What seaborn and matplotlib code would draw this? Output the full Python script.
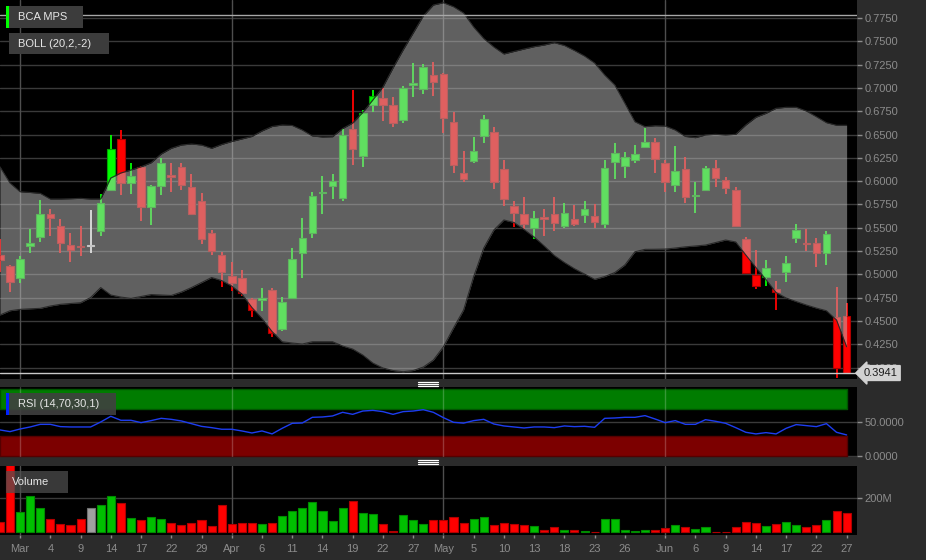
import numpy as np
import matplotlib
matplotlib.use("Agg")
import matplotlib.pyplot as plt
import matplotlib.transforms as mtransforms
import seaborn as sns
from matplotlib.patches import Rectangle
from matplotlib.lines import Line2D

# --- data (one entry per trading day) ---
opens = [0.521, 0.509, 0.496, 0.530, 0.540, 0.565, 0.552, 0.531, 0.530, 0.530,
         0.546, 0.590, 0.645, 0.598, 0.615, 0.5725, 0.595, 0.607, 0.615, 0.594,
         0.579, 0.5446, 0.521, 0.4985, 0.496, 0.474, 0.4724, 0.483, 0.441, 0.4742,
         0.5225, 0.5446, 0.5875, 0.5947, 0.582, 0.656, 0.627, 0.6817, 0.6888, 0.6817,
         0.6655, 0.7031, 0.6985, 0.7138, 0.715, 0.6634, 0.6083, 0.6216, 0.6484, 0.6527,
         0.6126, 0.5733, 0.5644, 0.550, 0.5615, 0.5644, 0.5518, 0.559, 0.5636, 0.5626,
         0.554, 0.6208, 0.6166, 0.6226, 0.6369, 0.6416, 0.619, 0.5958, 0.613, 0.5835,
         0.5905, 0.6144, 0.601, 0.5905, 0.538, 0.4997, 0.4974, 0.4846, 0.502, 0.5386,
         0.5325, 0.5336, 0.5232, 0.454, 0.4556]
highs = [0.5375, 0.510, 0.520, 0.549, 0.580, 0.570, 0.559, 0.544, 0.552, 0.569,
         0.586, 0.650, 0.655, 0.619, 0.616, 0.596, 0.6245, 0.619, 0.619, 0.608,
         0.587, 0.5475, 0.5243, 0.513, 0.5046, 0.4745, 0.4853, 0.4853, 0.476, 0.528,
         0.560, 0.5883, 0.605, 0.6076, 0.656, 0.6977, 0.6763, 0.6977, 0.6995, 0.690,
         0.7024, 0.727, 0.7256, 0.7275, 0.716, 0.674, 0.632, 0.6477, 0.671, 0.6577,
         0.6226, 0.5786, 0.5833, 0.568, 0.5701, 0.5833, 0.5762, 0.5744, 0.5786, 0.575,
         0.6226, 0.6412, 0.6316, 0.6387, 0.6567, 0.6466, 0.6226, 0.6377, 0.6255, 0.5987,
         0.6162, 0.6226, 0.6047, 0.5933, 0.5404, 0.526, 0.5153, 0.4928, 0.5196, 0.554,
         0.5486, 0.5386, 0.5465, 0.4867, 0.4695]
lows = [0.503, 0.481, 0.491, 0.523, 0.535, 0.541, 0.523, 0.513, 0.520, 0.523,
        0.541, 0.589, 0.585, 0.586, 0.5575, 0.553, 0.5855, 0.588, 0.5905, 0.564,
        0.532, 0.521, 0.486, 0.4825, 0.4767, 0.4546, 0.461, 0.4324, 0.4396, 0.474,
        0.4964, 0.5386, 0.5643, 0.5808, 0.579, 0.6173, 0.6155, 0.6745, 0.6648, 0.6584,
        0.6627, 0.690, 0.6931, 0.6916, 0.6513, 0.609, 0.5994, 0.619, 0.6412, 0.592,
        0.5733, 0.551, 0.549, 0.5375, 0.5414, 0.5465, 0.5493, 0.5518, 0.5547, 0.5493,
        0.5493, 0.602, 0.6037, 0.6198, 0.635, 0.609, 0.5886, 0.5886, 0.576, 0.5655,
        0.590, 0.594, 0.5858, 0.5504, 0.501, 0.484, 0.4878, 0.4617, 0.4921, 0.5333,
        0.525, 0.5075, 0.510, 0.389, 0.3941]
closes = [0.515, 0.492, 0.516, 0.534, 0.565, 0.560, 0.534, 0.526, 0.529, 0.530,
          0.576, 0.634, 0.598, 0.606, 0.5725, 0.595, 0.619, 0.604, 0.596, 0.565,
          0.538, 0.5246, 0.503, 0.4903, 0.480, 0.462, 0.4742, 0.4367, 0.470, 0.5164,
          0.5393, 0.584, 0.5885, 0.600, 0.6495, 0.6348, 0.6734, 0.6913, 0.6817, 0.662,
          0.6996, 0.7056, 0.7228, 0.7067, 0.6674, 0.6173, 0.602, 0.6326, 0.6666, 0.5994,
          0.5805, 0.566, 0.5536, 0.5607, 0.559, 0.5554, 0.5655, 0.5543, 0.5697, 0.5565,
          0.6144, 0.6305, 0.6262, 0.6291, 0.6416, 0.6234, 0.599, 0.6112, 0.5833, 0.5845,
          0.6144, 0.603, 0.5923, 0.5518, 0.5017, 0.4878, 0.5064, 0.481, 0.5118, 0.5472,
          0.532, 0.5232, 0.5429, 0.400, 0.3941]
boll_up = [0.6154, 0.5980, 0.5886, 0.5878, 0.5869, 0.5808, 0.5808, 0.5811, 0.5815, 0.5808,
           0.5808, 0.6033, 0.6087, 0.6119, 0.6154, 0.6197, 0.6291, 0.6352, 0.6387, 0.6398,
           0.6387, 0.6352, 0.6393, 0.6425, 0.6452, 0.6479, 0.6538, 0.6586, 0.6602, 0.6597,
           0.6548, 0.6484, 0.6473, 0.6476, 0.6564, 0.6623, 0.6736, 0.6870, 0.7010, 0.7214,
           0.7407, 0.7589, 0.7771, 0.7889, 0.7914, 0.7871, 0.7804, 0.7653, 0.7530, 0.7439,
           0.7364, 0.7391, 0.7417, 0.7442, 0.7460, 0.7485, 0.7455, 0.7401, 0.7342, 0.7267,
           0.7138, 0.7031, 0.6835, 0.6637, 0.6584, 0.6594, 0.6591, 0.6548, 0.6479, 0.6466,
           0.6495, 0.6502, 0.6495, 0.6502, 0.6602, 0.6685, 0.6727, 0.6781, 0.6792, 0.6792,
           0.6752, 0.6691, 0.6627, 0.6599, 0.6599]
boll_lo = [0.4563, 0.4609, 0.4624, 0.4630, 0.4635, 0.4660, 0.4678, 0.4687, 0.4695, 0.4751,
           0.4858, 0.4778, 0.4756, 0.4742, 0.4762, 0.4783, 0.4778, 0.4773, 0.4810, 0.4858,
           0.4912, 0.4966, 0.4933, 0.4874, 0.4789, 0.4644, 0.4526, 0.4386, 0.4277, 0.4263,
           0.4252, 0.4277, 0.4277, 0.4277, 0.4231, 0.4198, 0.4134, 0.4048, 0.3995, 0.3968,
           0.3955, 0.3968, 0.4005, 0.4080, 0.4223, 0.4424, 0.4617, 0.4976, 0.5282, 0.5475,
           0.5583, 0.5556, 0.5481, 0.5400, 0.5304, 0.5202, 0.5127, 0.5060, 0.5003, 0.4946,
           0.4976, 0.5019, 0.5100, 0.5242, 0.5268, 0.5269, 0.5271, 0.5282, 0.5295, 0.5304,
           0.5314, 0.5341, 0.5368, 0.5347, 0.5207, 0.5073, 0.4944, 0.4805, 0.4746, 0.4708,
           0.4671, 0.4638, 0.4609, 0.4510, 0.4223]
volume_m = [59, 420, 118, 210, 139, 75, 43, 39, 75, 139,
            159, 210, 169, 79, 69, 86, 77, 53, 38, 53,
            69, 33, 157, 45, 51, 49, 43, 51, 90, 122,
            139, 176, 122, 65, 139, 180, 110, 102, 43, 3,
            98, 67, 45, 67, 67, 86, 53, 73, 85, 41,
            51, 43, 39, 33, 12, 29, 12, 8, 6, 1,
            75, 75, 12, 2, 10, 8, 24, 37, 27, 14,
            27, 1, 1, 27, 57, 51, 33, 43, 57, 39,
            27, 37, 67, 122, 112]
rsi = [38.7, 36.2, 40.1, 43.1, 47.0, 47.0, 43.6, 43.1, 43.1, 43.1,
       50.5, 58.9, 53.0, 53.0, 49.5, 52.5, 55.9, 54.4, 52.0, 48.0,
       44.0, 42.1, 39.7, 39.7, 37.2, 34.2, 37.2, 32.8, 41.1, 48.5,
       49.0, 57.4, 57.9, 59.4, 64.8, 61.8, 66.7, 67.7, 65.8, 61.8,
       65.8, 66.7, 68.7, 64.8, 56.9, 50.0, 48.8, 52.5, 54.4, 47.5,
       44.6, 43.1, 41.6, 43.1, 43.1, 42.1, 44.6, 43.6, 44.1, 42.6,
       55.9, 56.4, 57.4, 57.4, 59.9, 54.9, 49.5, 52.5, 47.0, 47.0,
       53.9, 51.5, 48.5, 42.1, 35.2, 32.8, 34.7, 32.8, 41.1, 46.6,
       45.1, 43.6, 48.0, 35.2, 31.3]
tick_idx = [2, 5, 8, 11, 14, 17, 20, 23, 26, 29, 32, 35, 38, 41, 44,
            47, 50, 53, 56, 59, 62, 66, 69, 72, 75, 78, 81, 84]
tick_lbl = ["Mar", "4", "9", "14", "17", "22", "29", "Apr", "6", "11", "14", "19", "22", "27",
            "May", "5", "10", "13", "18", "23", "26", "Jun", "6", "9", "14", "17", "22", "27"]
month_idx = [2, 23, 44, 66]
price_ticks = [0.4000, 0.4250, 0.4500, 0.4750, 0.5000, 0.5250, 0.5500, 0.5750, 0.6000,
               0.6250, 0.6500, 0.6750, 0.7000, 0.7250, 0.7500, 0.7750]
last_price = 0.3941
top_line = 0.7777
rsi_hi, rsi_lo = 70, 30

idx = np.arange(len(closes))
o, h, l, c = map(np.array, (opens, highs, lows, closes))
up = c > o
down = c < o

sns.set_theme(style="dark")
plt.rcParams["font.family"] = ["Liberation Sans", "DejaVu Sans"]

W, H = 926, 560
BG = "#2b2b2b"
GRID = "#3a3a3a"
TXT = "#8c8c8c"

fig = plt.figure(figsize=(W / 100, H / 100), dpi=100, facecolor=BG)


def px_box(x0, y0, x1, y1):
    return [x0 / W, 1 - y1 / H, (x1 - x0) / W, (y1 - y0) / H]


ax = fig.add_axes(px_box(0, 0, 857, 379))
ax_rsi = fig.add_axes(px_box(0, 387, 857, 457))
ax_vol = fig.add_axes(px_box(0, 466, 857, 535))
xlim = (0.008, 85.03)

for a in (ax, ax_rsi, ax_vol):
    a.set_facecolor("black")
    for s in a.spines.values():
        s.set_visible(False)
    a.set_xlim(*xlim)
    a.yaxis.tick_right()
    a.tick_params(axis="y", colors=TXT, labelsize=8, length=3.5, width=1, pad=2)
    a.tick_params(axis="x", bottom=False, labelbottom=False)
    a.set_axisbelow(True)
    a.yaxis.grid(True, color=GRID, lw=1)
    a.xaxis.grid(False)

# ---- price panel ----
ax.set_ylim(0.3877, 0.7943)
ax.set_yticks(price_ticks)
ax.set_yticklabels([f"{t:.4f}" for t in price_ticks])
for m in month_idx:
    ax.axvline(m, color="#4e4e4e", lw=1, zorder=1)

body_col = np.where(up, "#00ff00", np.where(down, "#ff0000", "#ffffff"))
edge_col = np.where(up, "#00a800", np.where(down, "#b00000", "#cccccc"))
ax.vlines(idx, l, h, colors=body_col, lw=1.3, zorder=2)
body_h = np.maximum(np.abs(c - o), 0.0012)
ax.bar(idx, body_h, bottom=np.minimum(o, c), width=0.75, color=body_col,
       edgecolor=edge_col, lw=0.8, zorder=3)

ax.fill_between(idx, boll_lo, boll_up, color="#c0c0c0", alpha=0.5, lw=0, zorder=4)
ax.plot(idx, boll_up, color="#2a2a2a", lw=0.8, zorder=5)
ax.plot(idx, boll_lo, color="#2a2a2a", lw=0.8, zorder=5)

ax.axhline(top_line, color="#a8a8a8", lw=1, zorder=6)
ax.axhline(last_price, color="#c8c8c8", lw=1, zorder=6)
trans = mtransforms.blended_transform_factory(ax.transAxes, ax.transData)
ax.text(1.008, last_price, f"{last_price:.4f}", transform=trans, ha="left", va="center",
        fontsize=8, color="#1a1a1a", clip_on=False, zorder=10,
        bbox=dict(boxstyle="larrow,pad=0.22", fc="#d2d2d2", ec="#d2d2d2"))

# ---- RSI panel ----
ax_rsi.set_ylim(-1.4, 102.3)
ax_rsi.set_yticks([0, 50])
ax_rsi.set_yticklabels(["0.0000", "50.0000"])
band_x = [xlim[0], idx[-1]]
ax_rsi.fill_between(band_x, rsi_hi, 100, color="#007c00", edgecolor="#005500", lw=1, zorder=2)
ax_rsi.fill_between(band_x, 0, rsi_lo, color="#7c0000", edgecolor="#550000", lw=1, zorder=2)
for m in month_idx:
    ax_rsi.axvline(m, color="white", alpha=0.22, lw=1, zorder=3)
sns.lineplot(x=idx, y=rsi, ax=ax_rsi, color="#1d3df0", lw=1, zorder=4)
ax_rsi.set_xlim(*xlim)
ax_rsi.set_xlabel("")
ax_rsi.set_ylabel("")

# ---- volume panel ----
vol_col = np.where(up, "#00c000", np.where(down, "#ff0000", "#a0a0a0"))
vol_edge = np.where(up, "#008a00", np.where(down, "#b00000", "#707070"))
keys = [str(i) for i in idx]
sns.barplot(x=idx, y=volume_m, hue=keys, palette=dict(zip(keys, vol_col)), legend=False,
            native_scale=True, errorbar=None, width=0.8, saturation=1, ax=ax_vol, zorder=3)
for p, e in zip(ax_vol.patches, vol_edge):
    p.set_edgecolor(e)
    p.set_linewidth(0.8)
for m in month_idx:
    ax_vol.axvline(m, color="#4e4e4e", lw=1, zorder=1)
ax_vol.set_ylim(-19, 386)
ax_vol.set_yticks([200])
ax_vol.set_yticklabels(["200M"])
ax_vol.set_xlim(*xlim)
ax_vol.set_xticks(tick_idx)
ax_vol.set_xticklabels(tick_lbl)
ax_vol.tick_params(axis="x", bottom=True, labelbottom=True, colors=TXT, labelsize=8,
                   length=2.5, width=1, pad=4)
ax_vol.set_xlabel("")
ax_vol.set_ylabel("")


# ---- overlay labels and divider handles (pixel layout) ----
def rect(x0, y0, x1, y1, **kw):
    fig.add_artist(Rectangle((x0 / W, 1 - y1 / H), (x1 - x0) / W, (y1 - y0) / H,
                             transform=fig.transFigure, lw=0, **kw))


def label(x, y, s):
    fig.text(x / W, 1 - y / H, s, color="#e6e6e6", fontsize=8, va="center", ha="left")


rect(8.7, 6, 83, 27.7, fc="#3c3c3c")
rect(6, 6, 8.7, 27.7, fc="#00ff00")
label(18, 17, "BCA MPS")
rect(9, 33.3, 109, 54.3, fc="#3c3c3c")
label(18, 44, "BOLL (20,2,-2)")
rect(9, 392.7, 116, 415, fc="#404040", alpha=0.9)
rect(6, 392.7, 9, 415, fc="#0022ff")
label(18, 404, "RSI (14,70,30,1)")
rect(6, 471, 68, 493, fc="#505050", alpha=0.72)
label(12, 482, "Volume")

for yc in (383.8, 461.8):
    for dy in (-2.1, 0, 2.1):
        fig.add_artist(Line2D([418 / W, 438 / W], [1 - (yc + dy) / H] * 2,
                              transform=fig.transFigure, color="white", lw=0.9))

fig.savefig("out.png", dpi=100, facecolor=BG)
